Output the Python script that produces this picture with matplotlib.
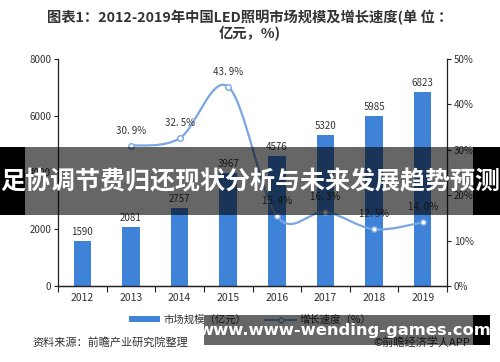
import matplotlib
matplotlib.use("Agg")
import matplotlib.pyplot as plt
from matplotlib.path import Path
from matplotlib.patches import PathPatch, Rectangle
import numpy as np

plt.rcParams['font.family'] = ['Noto Sans CJK SC', 'DejaVu Sans']

years = ['2012', '2013', '2014', '2015', '2016', '2017', '2018', '2019']
market = [1590, 2081, 2757, 3967, 4576, 5320, 5985, 6823]
growth_years = ['2013', '2014', '2015', '2016', '2017', '2018', '2019']
growth = [30.9, 32.5, 43.9, 15.4, 16.3, 12.5, 14.0]
growth_labels = ['30. 9%', '32. 5%', '43. 9%', '15. 4%', '16. 3%', '12. 5%', '14. 0%']
left_ticks = [0, 2000, 4000, 6000, 8000]
right_ticks = [0, 10, 20, 30, 40, 50]

bar_color = '#3f83d9'
line_color = '#7aa6e2'
txt = '#333333'

fig = plt.figure(figsize=(5.0, 3.62), dpi=100)
ax = fig.add_axes([0.116, 0.210, 0.778, 0.627])
ax2 = ax.twinx()

x = np.arange(len(years))
ax.bar(x, market, width=0.36, color=bar_color, zorder=2)
for xi, v in zip(x, market):
    ax.text(xi, v + 150, str(v), ha='center', va='bottom', fontsize=7, color=txt)

ax.set_xlim(-0.5, len(years) - 0.5)
ax.set_ylim(0, 8000)
ax.set_yticks(left_ticks)
ax.set_yticklabels([str(t) for t in left_ticks], fontsize=7, color=txt)
ax.set_xticks(x)
ax.set_xticklabels(years, fontsize=7.5, color=txt)
ax.tick_params(axis='x', length=0, pad=5)
ax.set_xticks(np.arange(-0.5, len(years), 1), minor=True)
ax.tick_params(axis='x', which='minor', length=4, width=0.8, color='#222222')
ax.tick_params(axis='y', length=3, width=0.8, color='#222222', pad=2)

ax2.set_ylim(0, 50)
ax2.set_yticks(right_ticks)
ax2.set_yticklabels([f'{t}%' for t in right_ticks], fontsize=7, color=txt)
ax2.tick_params(axis='y', length=3, width=0.8, color='#222222', pad=2)

for a in (ax, ax2):
    a.spines['top'].set_visible(False)
    for s in ('left', 'right', 'bottom'):
        a.spines[s].set_color('#222222')
        a.spines[s].set_linewidth(0.9)
ax.spines['right'].set_visible(False)
ax2.spines['left'].set_visible(False)

# smooth line via Catmull-Rom Bezier path (rendering only)
gx = np.array([years.index(y) for y in growth_years], dtype=float)
gy = np.array(growth, dtype=float)
verts = [(gx[0], gy[0])]
codes = [Path.MOVETO]
n = len(gx)
t = 0.5
for i in range(n - 1):
    p0 = np.array([gx[max(i - 1, 0)], gy[max(i - 1, 0)]])
    p1 = np.array([gx[i], gy[i]])
    p2 = np.array([gx[i + 1], gy[i + 1]])
    p3 = np.array([gx[min(i + 2, n - 1)], gy[min(i + 2, n - 1)]])
    c1 = p1 + (p2 - p0) * t / 3
    c2 = p2 - (p3 - p1) * t / 3
    verts += [tuple(c1), tuple(c2), tuple(p2)]
    codes += [Path.CURVE4] * 3
ax2.add_patch(PathPatch(Path(verts, codes), facecolor='none', edgecolor=line_color, lw=1.6, zorder=3))
ax2.plot(gx, gy, linestyle='none', marker='o', markersize=4, markerfacecolor='white',
         markeredgecolor=line_color, markeredgewidth=1.0, zorder=4)
for xi, yi, lab in zip(gx, gy, growth_labels):
    ax2.text(xi, yi + 2.2, lab, ha='center', va='bottom', fontsize=7, color=txt)

# legend
from matplotlib.lines import Line2D
from matplotlib.patches import Patch
handles = [Patch(facecolor=bar_color, label='市场规模（亿元）'),
           Line2D([0], [0], color=line_color, lw=1.4, marker='o', markersize=3.5,
                  markerfacecolor='white', markeredgecolor=line_color, label='增长速度（%）')]
leg = fig.legend(handles=handles, loc='center', bbox_to_anchor=(0.5, 1 - 320 / 362), ncol=2,
                 frameon=False, fontsize=7.5, handlelength=3.0, handleheight=0.5,
                 columnspacing=1.8, handletextpad=0.3)
for t_ in leg.get_texts():
    t_.set_color(txt)

# title
fig.text(0.5, 1 - 18 / 362, '图表1：2012-2019年中国LED照明市场规模及增长速度(单 位 ：', ha='center',
         va='center', fontsize=10.3, fontweight='bold', color=txt)
fig.text(0.5, 1 - 33 / 362, '亿元，%)', ha='center', va='center', fontsize=10.3,
         fontweight='bold', color=txt)

# source
fig.text(32 / 500, 1 - 342 / 362, '资料来源：前瞻产业研究院整理', ha='left', va='center',
         fontsize=8, color=txt)
fig.text(470 / 500, 1 - 342 / 362, '©前瞻经济学人APP', ha='right', va='center',
         fontsize=8, color=txt)

W, H = 500.0, 362.0
def frect(x0, y0, x1, y1, **kw):
    fig.patches.append(Rectangle((x0 / W, 1 - y1 / H), (x1 - x0) / W, (y1 - y0) / H,
                                 transform=fig.transFigure, zorder=10, **kw))

# overlay banner 1
frect(25, 147, 473, 215, facecolor='black', alpha=0.6, edgecolor='none')
frect(0, 147, 25, 215, facecolor='black', edgecolor='none')
frect(473, 147, 500, 215, facecolor='black', edgecolor='none')
fig.text(0.5, 1 - 182 / H, '足协调节费归还现状分析与未来发展趋势预测', ha='center', va='center',
         fontsize=18, fontweight='bold', color='white', zorder=11)

# overlay banner 2
frect(204, 315, 473, 345, facecolor='black', alpha=0.6, edgecolor='none')
frect(473, 315, 490, 345, facecolor='black', edgecolor='none')
fig.text(345 / W, 1 - 331 / H, 'www.www-wending-games.com', ha='center', va='center',
         fontsize=11.8, fontweight='bold', color='white', zorder=11, family=['DejaVu Sans'])

fig.savefig('out.png', dpi=100)
